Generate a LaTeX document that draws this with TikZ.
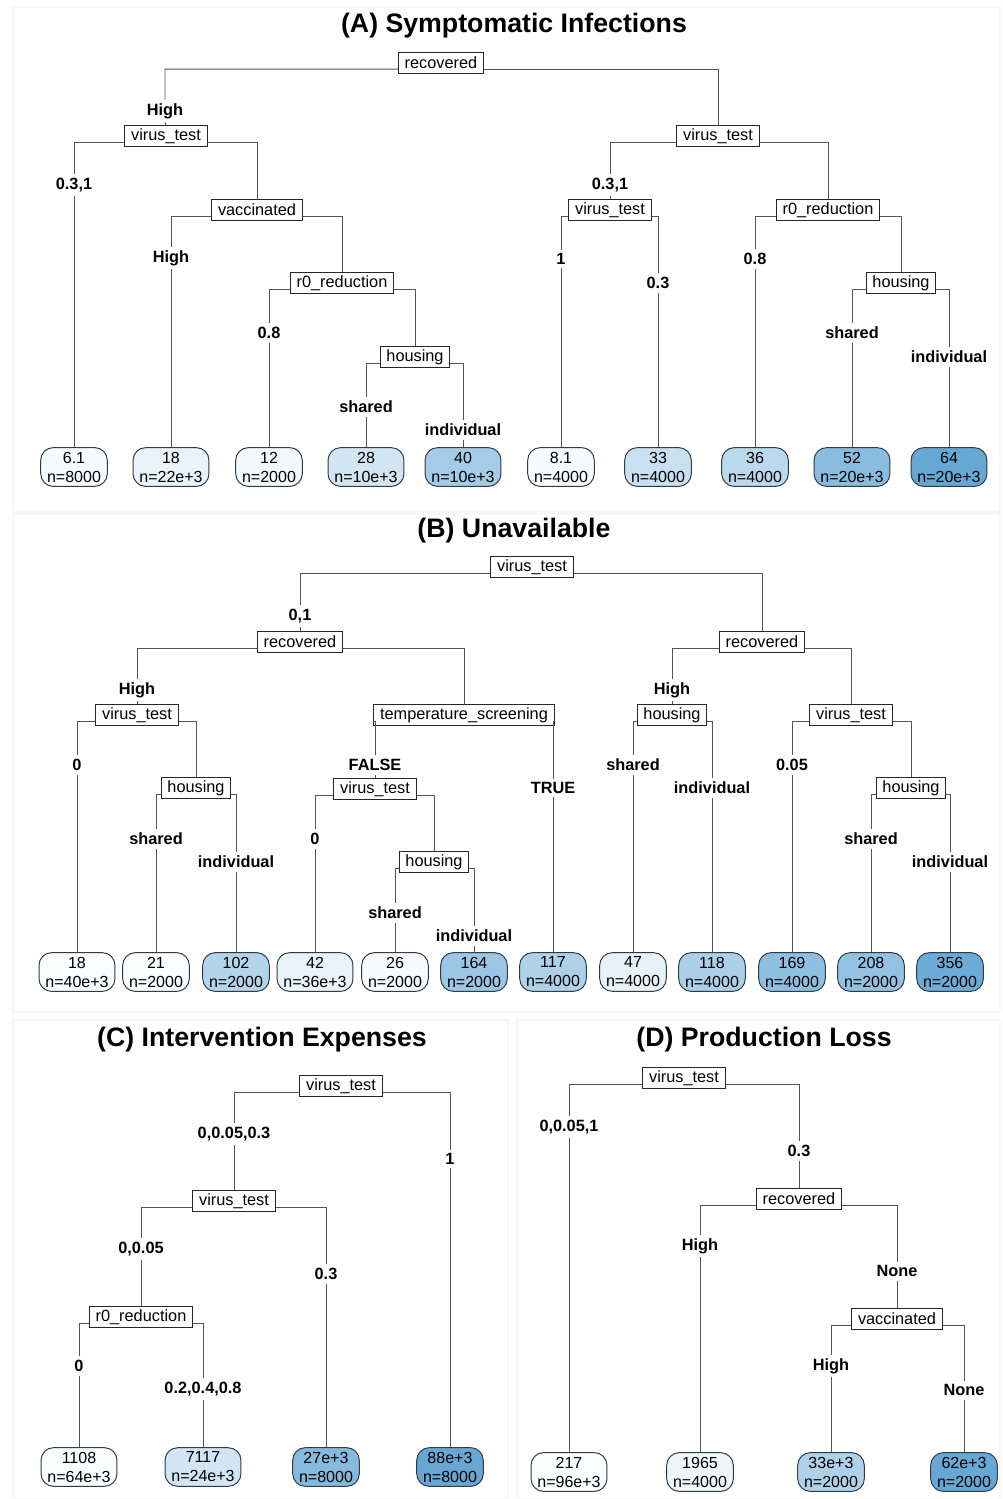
\documentclass[tikz,border=0pt]{standalone}
\usepackage{fontspec}
\setmainfont{Liberation Sans}
\definecolor{leafblue}{HTML}{4B98CD}
\definecolor{linegray}{HTML}{555555}
\definecolor{leafedge}{HTML}{2F3B45}

\begin{document}
\begin{tikzpicture}[
                x=0.025cm, y=-0.025cm,
                splitbox/.style={draw=black!85, line width=0.6pt, fill=white,
                  font=\fontsize{11.6}{13}\selectfont, inner xsep=4.5pt, inner ysep=1pt, minimum height=15.5pt},
                leafbox/.style={draw=leafedge, line width=0.7pt, rounded corners=9pt, align=center,
                  font=\fontsize{11.4}{13.5}\selectfont, inner xsep=4.5pt, inner ysep=3pt},
                brlabel/.style={font=\fontsize{11.6}{13}\selectfont\bfseries, inner sep=2.5pt},
                treeline/.style={draw=linegray, line width=0.7pt},
                paneltitle/.style={font=\fontsize{19}{22}\selectfont\bfseries},
                panelframe/.style={draw=black!3, line width=0.8pt}]

\useasboundingbox (0,0) rectangle (1003,1499);

% panels
\draw[panelframe] (13,7) rectangle (1000,512);
\draw[panelframe] (13,514) rectangle (1000,1012);
\draw[panelframe] (13,1020) rectangle (508,1499);
\draw[panelframe] (517,1020) rectangle (1000,1499);

%%%%%%%%%%%%%%%%%%%%%%%%%%%%%%%%%%%%%%%%%%%%%%%%%%%%%%%%%%%%%%%%%%%%%%%%%%%%%%%%%%%%
% (A)
\node[paneltitle] (Atitle) at (514,26) {(A) Symptomatic Infections};

                    % splits
                    \node[splitbox] (Aroot) at (441,63) {recovered};
                    \node[splitbox] (Avt1) at (166,136) {virus\_test};
                    \node[splitbox] (Avac) at (257,210) {vaccinated};
                    \node[splitbox] (Ar01) at (342,283) {r0\_reduction};
                    \node[splitbox] (Ahou1) at (415,357) {housing};
                    \node[splitbox] (Avt2) at (718,136) {virus\_test};
                    \node[splitbox] (Avt3) at (610,210) {virus\_test};
                    \node[splitbox] (Ar02) at (828,210) {r0\_reduction};
                    \node[splitbox] (Ahou2) at (901,283) {housing};

                    % labels
                    \node[brlabel] (AbHigh) at (165,111) {High};
                    \node[brlabel] (AbA) at (74,185) {0.3,1};
                    \node[brlabel] (AbHigh2) at (171,258) {High};
                    \node[brlabel] (AbB) at (269,333) {0.8};
                    \node[brlabel] (AbSh1) at (366,407) {shared};
                    \node[brlabel] (AbIn1) at (463,430) {individual};
                    \node[brlabel] (AbC) at (610,185) {0.3,1};
                    \node[brlabel] (AbD) at (561,259) {1};
                    \node[brlabel] (AbE) at (658,283) {0.3};
                    \node[brlabel] (AbF) at (755,259) {0.8};
                    \node[brlabel] (AbSh2) at (852,333) {shared};
                    \node[brlabel] (AbIn2) at (949,357) {individual};

                    % leaves
                    \node[leafbox,fill=leafblue!4] (Al1) at (74,467) {6.1\\n=8000};
                    \node[leafbox,fill=leafblue!12] (Al2) at (171,467) {18\\n=22e+3};
                    \node[leafbox,fill=leafblue!7] (Al3) at (269,467) {12\\n=2000};
                    \node[leafbox,fill=leafblue!25] (Al4) at (366,467) {28\\n=10e+3};
                    \node[leafbox,fill=leafblue!50] (Al5) at (463,467) {40\\n=10e+3};
                    \node[leafbox,fill=leafblue!4] (Al6) at (561,467) {8.1\\n=4000};
                    \node[leafbox,fill=leafblue!30] (Al7) at (658,467) {33\\n=4000};
                    \node[leafbox,fill=leafblue!38] (Al8) at (755,467) {36\\n=4000};
                    \node[leafbox,fill=leafblue!65] (Al9) at (852,467) {52\\n=20e+3};
                    \node[leafbox,fill=leafblue!85] (Al10) at (949,467) {64\\n=20e+3};

                    % branches
                    \draw[treeline] ([yshift=-4.3pt]Aroot.west) -| (AbHigh.north) (AbHigh.south) -- (Avt1.north);
                    \draw[treeline] ([yshift=-4.3pt]Aroot.east) -| (Avt2.north);
                    \draw[treeline] ([yshift=-4.3pt]Avt1.west) -| (AbA.north) (AbA.south) -- (Al1.north);
                    \draw[treeline] ([yshift=-4.3pt]Avt1.east) -| (Avac.north);
                    \draw[treeline] ([yshift=-4.3pt]Avac.west) -| (AbHigh2.north) (AbHigh2.south) -- (Al2.north);
                    \draw[treeline] ([yshift=-4.3pt]Avac.east) -| (Ar01.north);
                    \draw[treeline] ([yshift=-4.3pt]Ar01.west) -| (AbB.north) (AbB.south) -- (Al3.north);
                    \draw[treeline] ([yshift=-4.3pt]Ar01.east) -| (Ahou1.north);
                    \draw[treeline] ([yshift=-4.3pt]Ahou1.west) -| (AbSh1.north) (AbSh1.south) -- (Al4.north);
                    \draw[treeline] ([yshift=-4.3pt]Ahou1.east) -| (AbIn1.north) (AbIn1.south) -- (Al5.north);
                    \draw[treeline] ([yshift=-4.3pt]Avt2.west) -| (AbC.north) (AbC.south) -- (Avt3.north);
                    \draw[treeline] ([yshift=-4.3pt]Avt2.east) -| (Ar02.north);
                    \draw[treeline] ([yshift=-4.3pt]Avt3.west) -| (AbD.north) (AbD.south) -- (Al6.north);
                    \draw[treeline] ([yshift=-4.3pt]Avt3.east) -| (AbE.north) (AbE.south) -- (Al7.north);
                    \draw[treeline] ([yshift=-4.3pt]Ar02.west) -| (AbF.north) (AbF.south) -- (Al8.north);
                    \draw[treeline] ([yshift=-4.3pt]Ar02.east) -| (Ahou2.north);
                    \draw[treeline] ([yshift=-4.3pt]Ahou2.west) -| (AbSh2.north) (AbSh2.south) -- (Al9.north);
                    \draw[treeline] ([yshift=-4.3pt]Ahou2.east) -| (AbIn2.north) (AbIn2.south) -- (Al10.north);

%%%%%%%%%%%%%%%%%%%%%%%%%%%%%%%%%%%%%%%%%%%%%%%%%%%%%%%%%%%%%%%%%%%%%%%%%%%%%%%%%%%%
% (B)
\node[paneltitle] (Btitle) at (514,531) {(B) Unavailable};

                    % splits
                    \node[splitbox] (Broot) at (532,567) {virus\_test};
                    \node[splitbox] (Brec1) at (300,642) {recovered};
                    \node[splitbox] (Bvt1) at (137,715) {virus\_test};
                    \node[splitbox] (Bhou1) at (196,788) {housing};
                    \node[splitbox] (Btemp) at (464,715) {temperature\_screening};
                    \node[splitbox] (Bvt2) at (375,789) {virus\_test};
                    \node[splitbox] (Bhou2) at (434,862) {housing};
                    \node[splitbox] (Brec2) at (762,642) {recovered};
                    \node[splitbox] (Bhou3) at (672,715) {housing};
                    \node[splitbox] (Bvt3) at (851,715) {virus\_test};
                    \node[splitbox] (Bhou4) at (911,788) {housing};

                    % labels
                    \node[brlabel] (BbA) at (300,616) {0,1};
                    \node[brlabel] (BbHigh1) at (137,690) {High};
                    \node[brlabel] (BbB) at (77,765) {0};
                    \node[brlabel] (BbSh1) at (156,839) {shared};
                    \node[brlabel] (BbIn1) at (236,862) {individual};
                    \node[brlabel] (BbFalse) at (375,765) {FALSE};
                    \node[brlabel] (BbTrue) at (553,788) {TRUE};
                    \node[brlabel] (BbC) at (315,839) {0};
                    \node[brlabel] (BbSh2) at (395,913) {shared};
                    \node[brlabel] (BbIn2) at (474,936) {individual};
                    \node[brlabel] (BbHigh2) at (672,690) {High};
                    \node[brlabel] (BbSh3) at (633,765) {shared};
                    \node[brlabel] (BbIn3) at (712,788) {individual};
                    \node[brlabel] (BbD) at (792,765) {0.05};
                    \node[brlabel] (BbSh4) at (871,839) {shared};
                    \node[brlabel] (BbIn4) at (950,862) {individual};

                    % leaves
                    \node[leafbox,fill=leafblue!3] (Bl1) at (77,972) {18\\n=40e+3};
                    \node[leafbox,fill=leafblue!3] (Bl2) at (156,972) {21\\n=2000};
                    \node[leafbox,fill=leafblue!42] (Bl3) at (236,972) {102\\n=2000};
                    \node[leafbox,fill=leafblue!13] (Bl4) at (315,972) {42\\n=36e+3};
                    \node[leafbox,fill=leafblue!5] (Bl5) at (395,972) {26\\n=2000};
                    \node[leafbox,fill=leafblue!55] (Bl6) at (474,972) {164\\n=2000};
                    \node[leafbox,fill=leafblue!45] (Bl7) at (553,972) {117\\n=4000};
                    \node[leafbox,fill=leafblue!14] (Bl8) at (633,972) {47\\n=4000};
                    \node[leafbox,fill=leafblue!47] (Bl9) at (712,972) {118\\n=4000};
                    \node[leafbox,fill=leafblue!62] (Bl10) at (792,972) {169\\n=4000};
                    \node[leafbox,fill=leafblue!60] (Bl11) at (871,972) {208\\n=2000};
                    \node[leafbox,fill=leafblue!82] (Bl12) at (950,972) {356\\n=2000};

                    % branches
                    \draw[treeline] ([yshift=-4.3pt]Broot.west) -| (BbA.north) (BbA.south) -- (Brec1.north);
                    \draw[treeline] ([yshift=-4.3pt]Broot.east) -| (Brec2.north);
                    \draw[treeline] ([yshift=-4.3pt]Brec1.west) -| (BbHigh1.north) (BbHigh1.south) -- (Bvt1.north);
                    \draw[treeline] ([yshift=-4.3pt]Brec1.east) -| (Btemp.north);
                    \draw[treeline] ([yshift=-4.3pt]Bvt1.west) -| (BbB.north) (BbB.south) -- (Bl1.north);
                    \draw[treeline] ([yshift=-4.3pt]Bvt1.east) -| (Bhou1.north);
                    \draw[treeline] ([yshift=-4.3pt]Bhou1.west) -| (BbSh1.north) (BbSh1.south) -- (Bl2.north);
                    \draw[treeline] ([yshift=-4.3pt]Bhou1.east) -| (BbIn1.north) (BbIn1.south) -- (Bl3.north);
                    \draw[treeline] ([yshift=-4.3pt]Btemp.west) -| (BbFalse.north) (BbFalse.south) -- (Bvt2.north);
                    \draw[treeline] ([yshift=-4.3pt]Btemp.east) -| (BbTrue.north) (BbTrue.south) -- (Bl7.north);
                    \draw[treeline] ([yshift=-4.3pt]Bvt2.west) -| (BbC.north) (BbC.south) -- (Bl4.north);
                    \draw[treeline] ([yshift=-4.3pt]Bvt2.east) -| (Bhou2.north);
                    \draw[treeline] ([yshift=-4.3pt]Bhou2.west) -| (BbSh2.north) (BbSh2.south) -- (Bl5.north);
                    \draw[treeline] ([yshift=-4.3pt]Bhou2.east) -| (BbIn2.north) (BbIn2.south) -- (Bl6.north);
                    \draw[treeline] ([yshift=-4.3pt]Brec2.west) -| (BbHigh2.north) (BbHigh2.south) -- (Bhou3.north);
                    \draw[treeline] ([yshift=-4.3pt]Brec2.east) -| (Bvt3.north);
                    \draw[treeline] ([yshift=-4.3pt]Bhou3.west) -| (BbSh3.north) (BbSh3.south) -- (Bl8.north);
                    \draw[treeline] ([yshift=-4.3pt]Bhou3.east) -| (BbIn3.north) (BbIn3.south) -- (Bl9.north);
                    \draw[treeline] ([yshift=-4.3pt]Bvt3.west) -| (BbD.north) (BbD.south) -- (Bl10.north);
                    \draw[treeline] ([yshift=-4.3pt]Bvt3.east) -| (Bhou4.north);
                    \draw[treeline] ([yshift=-4.3pt]Bhou4.west) -| (BbSh4.north) (BbSh4.south) -- (Bl11.north);
                    \draw[treeline] ([yshift=-4.3pt]Bhou4.east) -| (BbIn4.north) (BbIn4.south) -- (Bl12.north);

%%%%%%%%%%%%%%%%%%%%%%%%%%%%%%%%%%%%%%%%%%%%%%%%%%%%%%%%%%%%%%%%%%%%%%%%%%%%%%%%%%%%
% (C)
\node[paneltitle] (Ctitle) at (262,1040) {(C) Intervention Expenses};

                    % splits
                    \node[splitbox] (Croot) at (341,1086) {virus\_test};
                    \node[splitbox] (Cvt) at (234,1201) {virus\_test};
                    \node[splitbox] (Cr0) at (141,1317) {r0\_reduction};

                    % labels
                    \node[brlabel] (CbA) at (234,1134) {0,0.05,0.3};
                    \node[brlabel] (CbB) at (450,1159) {1};
                    \node[brlabel] (CbC) at (141,1249) {0,0.05};
                    \node[brlabel] (CbD) at (326,1274) {0.3};
                    \node[brlabel] (CbE) at (79,1366) {0};
                    \node[brlabel] (CbF) at (203,1389) {0.2,0.4,0.8};

                    % leaves
                    \node[leafbox,fill=leafblue!3] (Cl1) at (79,1467) {1108\\n=64e+3};
                    \node[leafbox,fill=leafblue!25] (Cl2) at (203,1467) {7117\\n=24e+3};
                    \node[leafbox,fill=leafblue!68] (Cl3) at (326,1467) {27e+3\\n=8000};
                    \node[leafbox,fill=leafblue!85] (Cl4) at (450,1467) {88e+3\\n=8000};

                    % branches
                    \draw[treeline] ([yshift=-4.3pt]Croot.west) -| (CbA.north) (CbA.south) -- (Cvt.north);
                    \draw[treeline] ([yshift=-4.3pt]Croot.east) -| (CbB.north) (CbB.south) -- (Cl4.north);
                    \draw[treeline] ([yshift=-4.3pt]Cvt.west) -| (CbC.north) (CbC.south) -- (Cr0.north);
                    \draw[treeline] ([yshift=-4.3pt]Cvt.east) -| (CbD.north) (CbD.south) -- (Cl3.north);
                    \draw[treeline] ([yshift=-4.3pt]Cr0.west) -| (CbE.north) (CbE.south) -- (Cl1.north);
                    \draw[treeline] ([yshift=-4.3pt]Cr0.east) -| (CbF.north) (CbF.south) -- (Cl2.north);

%%%%%%%%%%%%%%%%%%%%%%%%%%%%%%%%%%%%%%%%%%%%%%%%%%%%%%%%%%%%%%%%%%%%%%%%%%%%%%%%%%%%
% (D)
\node[paneltitle] (Dtitle) at (764,1040) {(D) Production Loss};

                    % splits
                    \node[splitbox] (Droot) at (684,1078) {virus\_test};
                    \node[splitbox] (Drec) at (799,1199) {recovered};
                    \node[splitbox] (Dvac) at (897,1319) {vaccinated};

                    % labels
                    \node[brlabel] (DbA) at (569,1127) {0,0.05,1};
                    \node[brlabel] (DbB) at (799,1151) {0.3};
                    \node[brlabel] (DbHigh1) at (700,1246) {High};
                    \node[brlabel] (DbNone1) at (897,1271) {None};
                    \node[brlabel] (DbHigh2) at (831,1366) {High};
                    \node[brlabel] (DbNone2) at (964,1390) {None};

                    % leaves
                    \node[leafbox,fill=leafblue!2] (Dl1) at (569,1472) {217\\n=96e+3};
                    \node[leafbox,fill=leafblue!9] (Dl2) at (700,1472) {1965\\n=4000};
                    \node[leafbox,fill=leafblue!45] (Dl3) at (831,1472) {33e+3\\n=2000};
                    \node[leafbox,fill=leafblue!85] (Dl4) at (964,1472) {62e+3\\n=2000};

                    % branches
                    \draw[treeline] ([yshift=-4.3pt]Droot.west) -| (DbA.north) (DbA.south) -- (Dl1.north);
                    \draw[treeline] ([yshift=-4.3pt]Droot.east) -| (DbB.north) (DbB.south) -- (Drec.north);
                    \draw[treeline] ([yshift=-4.3pt]Drec.west) -| (DbHigh1.north) (DbHigh1.south) -- (Dl2.north);
                    \draw[treeline] ([yshift=-4.3pt]Drec.east) -| (DbNone1.north) (DbNone1.south) -- (Dvac.north);
                    \draw[treeline] ([yshift=-4.3pt]Dvac.west) -| (DbHigh2.north) (DbHigh2.south) -- (Dl3.north);
                    \draw[treeline] ([yshift=-4.3pt]Dvac.east) -| (DbNone2.north) (DbNone2.south) -- (Dl4.north);

\end{tikzpicture}
\end{document}
